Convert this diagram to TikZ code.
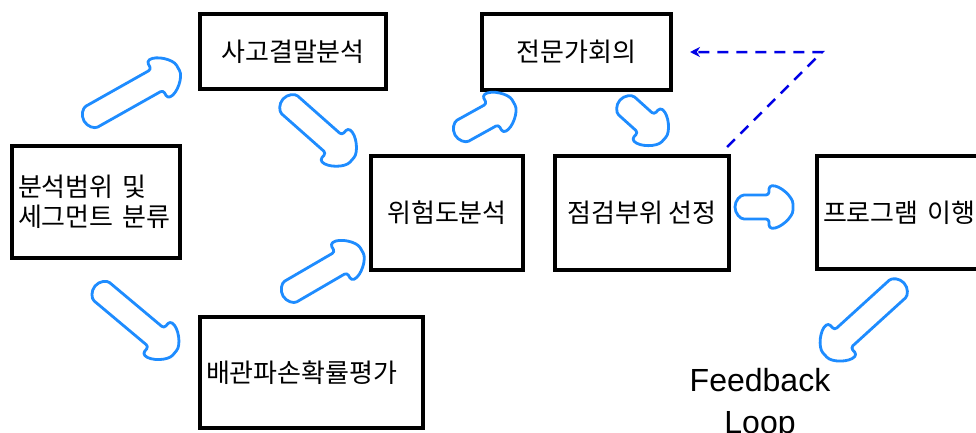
\documentclass[tikz,border=0pt]{standalone}
\usepackage{fontspec}
\setmainfont{Noto Sans CJK KR}
\newfontfamily\latinsans{Liberation Sans}
\usetikzlibrary{arrows.meta}
\definecolor{arrowblue}{RGB}{30,140,255}
\definecolor{dashblue}{RGB}{0,0,230}
\tikzset{
  box/.style={draw=black, line width=3.5pt, fill=white, inner sep=0pt, outer sep=0pt,
    font={\fontsize{26}{30}\selectfont}},
  leftbox/.style={box, align=left, inner xsep=6pt},
  midbox/.style={box, align=center},
  arrowline/.style={draw=arrowblue, line width=2.8pt, line join=round, rounded corners=3pt, fill=white},
  pics/barrow/.style={code={
    \path[arrowline] ({#1-24},-12) -- ({#1-24},-21)
      .. controls ({#1-13},-22) and (#1,-10) .. (#1,0)
      .. controls (#1,10) and ({#1-13},22) .. ({#1-24},21)
      -- ({#1-24},12) -- (12,12) arc[start angle=90,end angle=270,radius=12] -- cycle;
  }},
  fbline/.style={draw=dashblue, line width=2.5pt, dash pattern=on 11pt off 8pt},
}
\begin{document}
\begin{tikzpicture}[x=1pt,y=-1pt]
\clip (0,0) rectangle (976,432);
\fill[white] (0,0) rectangle (976,432);

% boxes
\node[leftbox, minimum width=168, minimum height=112, text width=156] (A) at (96,202) {분석범위 및\\세그먼트 분류};
\node[midbox, minimum width=186, minimum height=75] (B) at (293,51.5) {사고결말분석};
\node[leftbox, minimum width=223, minimum height=111, text width=211] (C) at (311.5,372.5) {배관파손확률평가};
\node[midbox, minimum width=152, minimum height=114] (D) at (447,213) {위험도분석};
\node[midbox, minimum width=189, minimum height=76] (E) at (576.5,52) {전문가회의};
\node[midbox, minimum width=174, minimum height=114] (F) at (642,213) {점검부위 선정};
\node[leftbox, minimum width=200, minimum height=113, text width=188] (G) at (917,212.5) {프로그램 이행};

\node[font={\latinsans\fontsize{32}{42}\selectfont}, align=center, inner sep=0pt] (FB) at (760,404) {Feedback\\Loop};

% block arrows
\pic[rotate=29.4] at (84,121) {barrow=108};
\pic[rotate=-41.5] at (283,99) {barrow=92};
\pic[rotate=-40] at (95,286) {barrow=104};
\pic[rotate=30.2] at (283,296) {barrow=91};
\pic[rotate=29] at (455,135) {barrow=67};
\pic[rotate=-42] at (620,100) {barrow=59};
\pic[rotate=0] at (735,207) {barrow=58};
\pic[rotate=-137.7] at (904,283) {barrow=107};

% feedback dashed connector
\coordinate (fbStart) at (727,147);
\coordinate (fbCorner) at (822,52);
\coordinate (fbEnd) at (690,52);
\draw[fbline, -{Stealth[length=10pt,width=10pt]}] (fbStart) -- (fbCorner) -- (fbEnd);
\end{tikzpicture}
\end{document}
